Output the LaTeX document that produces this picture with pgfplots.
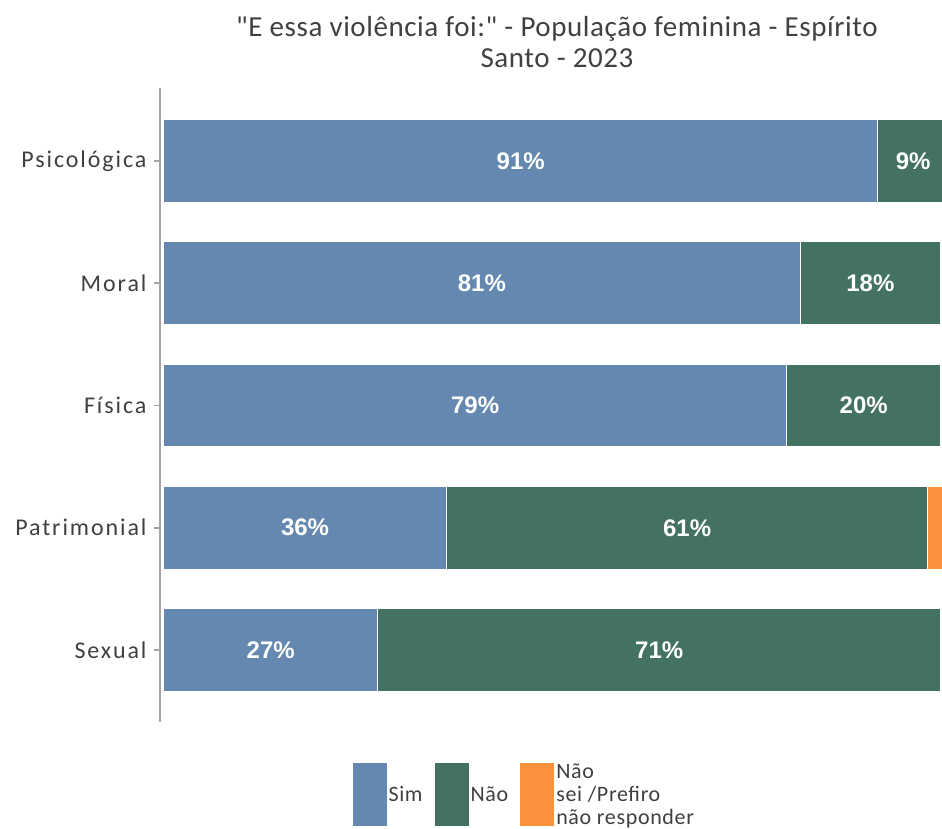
\documentclass[border=0pt]{standalone}
\usepackage{fontspec}
\setmainfont{Carlito}
\newfontfamily\ticksfont{Carlito}[LetterSpace=8]
\newfontfamily\titlefont{Carlito}[LetterSpace=2]
\newfontfamily\legfont{Carlito}[LetterSpace=3]
\newfontfamily\lblfont{Liberation Sans}
\usepackage{pgfplots}
\usepackage{pgfplotstable}
\pgfplotsset{compat=1.18}
\definecolor{csim}{RGB}{100,136,176}
\definecolor{cnao}{RGB}{67,114,98}
\definecolor{cns}{RGB}{250,145,60}
\definecolor{ctxt}{RGB}{64,64,64}
\definecolor{caxis}{RGB}{165,165,165}

\pgfplotstableread{
y sim nao ns simlab naolab
4 91 9 0 91 9
3 81.1 17.9 0 81 18
2 79.4 19.6 0 79 20
1 36.05 61.3 2.65 36 61
0 27.3 71.7 0 27 71
}\data

\begin{document}
\begin{tikzpicture}
\useasboundingbox (0bp,0bp) rectangle (942bp,829bp);
\node[anchor=north, align=center, inner sep=0pt, font=\titlefont\fontsize{29bp}{31bp}\selectfont, text=ctxt] at (557bp,813bp) {"E essa violência foi:" - População feminina - Espírito\\Santo - 2023};
\begin{axis}[
 at={(160bp,107bp)}, anchor=south west, scale only axis, width=788.5bp, height=634bp,
 xbar stacked, bar width=83bp,
 xmin=-0.45, xmax=100, ymin=-0.589, ymax=4.597,
 axis x line=none, axis y line*=left,
 y axis line style={draw=caxis, line width=1.6bp},
 xtick=\empty,
 ytick={0,...,4}, yticklabels={Sexual,Patrimonial,Física,Moral,Psicológica},
 tick align=outside, major tick length=6bp,
 ytick style={draw=caxis, line width=1.6bp},
 yticklabel style={font=\ticksfont\fontsize{24bp}{26bp}\selectfont, text=ctxt, xshift=-4bp},
 legend cell align=left,
 legend columns=3,
 legend style={at={(0.462,-0.062)}, anchor=north, draw=none, fill=none, inner sep=0pt,
   font=\legfont\fontsize{22bp}{23bp}\selectfont, text=ctxt,
   nodes={align=left, inner sep=2bp},
   /tikz/every even column/.append style={column sep=10bp}},
 legend image code/.code={\fill[#1,draw=none] (0bp,-31.5bp) rectangle (34bp,31.5bp);},
]
\addplot[fill=csim, draw=white, line width=1.2bp, point meta=explicit,
  nodes near coords={\pgfmathprintnumber[assume math mode=true]{\pgfplotspointmeta}\%},
  every node near coord/.append style={anchor=center, text=white, font=\lblfont\bfseries\fontsize{24bp}{26bp}\selectfont}]
  table[x=sim, y=y, meta=simlab] {\data};
\addlegendentry{Sim}
\addplot[fill=cnao, draw=white, line width=1.2bp, point meta=explicit,
  nodes near coords={\pgfmathprintnumber[assume math mode=true]{\pgfplotspointmeta}\%},
  every node near coord/.append style={anchor=center, text=white, font=\lblfont\bfseries\fontsize{24bp}{26bp}\selectfont}]
  table[x=nao, y=y, meta=naolab] {\data};
\addlegendentry{Não}
\addplot[fill=cns, draw=white, line width=1.2bp]
  table[x=ns, y=y] {\data};
\addlegendentry{Não\\sei /Prefiro\\não responder}
\end{axis}
\end{tikzpicture}
\end{document}
